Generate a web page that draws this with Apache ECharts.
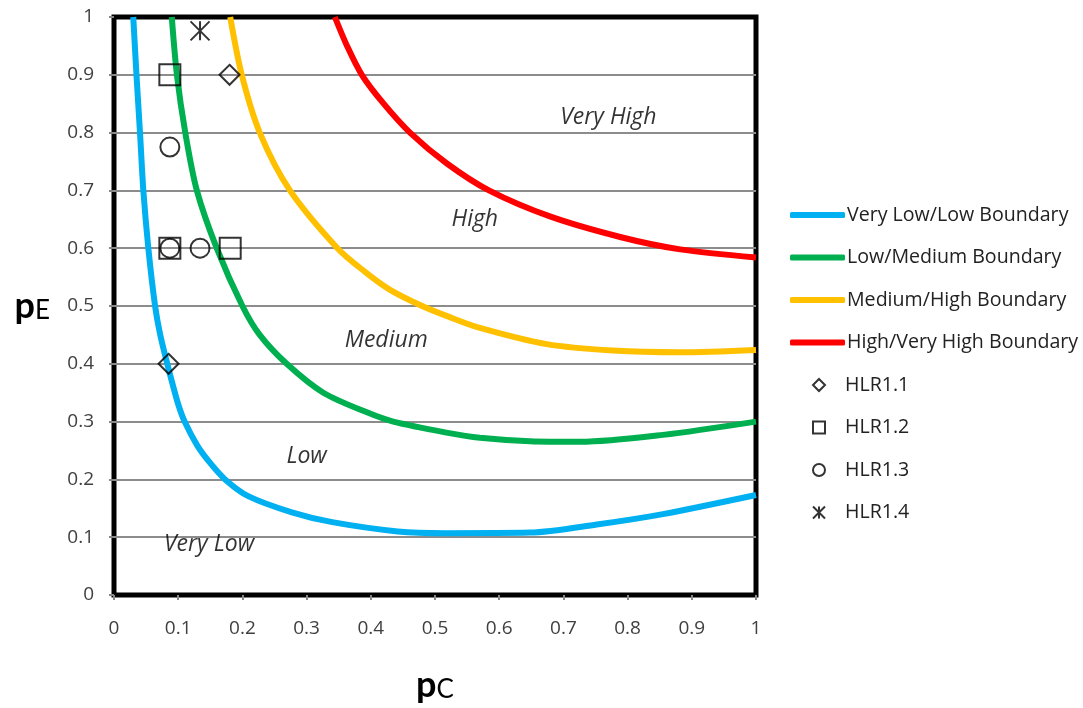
<!DOCTYPE html>
<html>
<head>
<meta charset="utf-8">
<script src="https://cdn.jsdelivr.net/npm/echarts@6/dist/echarts.min.js"></script>
<style>html,body{margin:0;padding:0;background:#fff}#c{width:1083px;height:708px}</style>
</head>
<body>
<div id="c"></div>
<script>
// Boundary curves: [pC, pE]
const veryLowLow = [[0.030,1.0],[0.035,0.9],[0.0405,0.8],[0.0457,0.7],[0.0535,0.6],[0.064,0.5],[0.072,0.45],[0.083,0.4],[0.09,0.37],[0.1,0.33],[0.11,0.3],[0.13,0.258],[0.15,0.228],[0.173,0.2],[0.209,0.171],[0.277,0.143],[0.34,0.126],[0.442,0.11],[0.516,0.107],[0.648,0.108],[0.752,0.122],[0.855,0.14],[1.0,0.173]];
const lowMedium = [[0.090,1.0],[0.098,0.9],[0.111,0.8],[0.129,0.7],[0.160,0.6],[0.2,0.5],[0.227,0.45],[0.269,0.4],[0.326,0.35],[0.394,0.316],[0.435,0.3],[0.518,0.281],[0.570,0.272],[0.648,0.266],[0.726,0.265],[0.855,0.277],[1.0,0.3]];
const mediumHigh = [[0.181,1.0],[0.199,0.9],[0.227,0.8],[0.274,0.7],[0.348,0.6],[0.39,0.56],[0.43,0.528],[0.48,0.5],[0.52,0.482],[0.57,0.462],[0.674,0.434],[0.777,0.423],[0.882,0.42],[1.0,0.424]];
const highVeryHigh = [[0.344,1.0],[0.363,0.95],[0.386,0.9],[0.42,0.85],[0.461,0.8],[0.518,0.747],[0.584,0.7],[0.679,0.655],[0.79,0.619],[0.882,0.598],[1.0,0.584]];
// Markers
const hlr11 = [[0.085,0.4],[0.18,0.9]];
const hlr12 = [[0.087,0.9],[0.087,0.6],[0.181,0.6]];
const hlr13 = [[0.087,0.775],[0.087,0.6],[0.134,0.6]];
const hlr14 = [[0.134,0.976]];
// Region labels
const regionNames = ['Very High','High','Medium','Low','Very Low'];
const regionX = [0.77,0.562,0.424,0.3,0.148];
const regionY = [0.827,0.65,0.44,0.24,0.088];
const lineNames = ['Very Low/Low Boundary','Low/Medium Boundary','Medium/High Boundary','High/Very High Boundary'];
const markerNames = ['HLR1.1','HLR1.2','HLR1.3','HLR1.4'];

const FONT = '"Open Sans", sans-serif';
const chart = echarts.init(document.getElementById('c'));
function lineS(name, data, color){
  return {name, type:'line', data, symbol:'none', smooth:0.3, z:3,
    lineStyle:{color, width:6}, itemStyle:{color}};
}
function markS(name, data, symbol, size){
  return {name, type:'scatter', data, symbol, symbolSize:size, z:5, symbolKeepAspect:true,
    itemStyle:{color:'rgba(0,0,0,0)', borderColor:'#000', borderWidth:2}};
}
const nameRich = {p:{fontFamily:'Lato, sans-serif', fontSize:36, fontWeight:'bold', color:'#000'}, s:{fontFamily:'Lato, sans-serif', fontSize:26, color:'#000', verticalAlign:'bottom'}};
chart.setOption({
  animation:false,
  grid:{left:114, right:327, top:17, bottom:112, show:true, borderColor:'#000', borderWidth:5, backgroundColor:'#fff'},
  xAxis:{type:'value', min:0, max:1, interval:0.1,
    axisLine:{show:false}, axisTick:{show:true, length:5, lineStyle:{color:'#888', width:2}},
    splitLine:{show:false},
    axisLabel:{fontFamily:FONT, fontSize:19, color:'#404040', margin:24},
    name:'{p|p}{s|C}', nameLocation:'middle', nameGap:72,
    nameTextStyle:{rich:nameRich}
  },
  yAxis:{type:'value', min:0, max:1, interval:0.1,
    axisLine:{show:false}, axisTick:{show:true, length:5, lineStyle:{color:'#888', width:2}},
    splitLine:{show:true, showMinLine:false, showMaxLine:false, lineStyle:{color:'#8c8c8c', width:2}},
    axisLabel:{fontFamily:FONT, fontSize:19, color:'#404040', margin:20},
    name:'{p|p}{s|E}', nameLocation:'middle', nameRotate:0, nameGap:64,
    nameTextStyle:{rich:nameRich}
  },
  legend:[
    {orient:'vertical', left:785, top:200, itemWidth:55, itemHeight:6, itemGap:22.5, icon:'roundRect',
      data:lineNames, textStyle:{fontFamily:FONT, fontSize:19.6, color:'#222', lineHeight:20, padding:[0,0,0,-3]}},
    {orient:'vertical', left:807, top:370, itemWidth:12, itemHeight:12, itemGap:22.5,
      data:markerNames, textStyle:{fontFamily:FONT, fontSize:19.6, color:'#222', lineHeight:20, padding:[0,0,0,15]}}
  ],
  series:[
    lineS(lineNames[0], veryLowLow, '#00b0f0'),
    lineS(lineNames[1], lowMedium, '#00b050'),
    lineS(lineNames[2], mediumHigh, '#ffc000'),
    lineS(lineNames[3], highVeryHigh, '#ff0000'),
    markS(markerNames[0], hlr11, 'diamond', 20),
    markS(markerNames[1], hlr12, 'rect', 21),
    markS(markerNames[2], hlr13, 'circle', 19),
    markS(markerNames[3], hlr14, 'path://M0,0L10,10M10,0L0,10M5,0L5,10', 19),
    {name:'regions', type:'scatter', symbolSize:0, z:4, silent:true,
      data: regionNames.map((n,i)=>({value:[regionX[i], regionY[i]], name:n})),
      label:{show:true, position:'inside', formatter:p=>p.name, fontFamily:FONT, fontStyle:'italic', fontSize:23, color:'#000'}}
  ]
});
</script>
</body>
</html>
